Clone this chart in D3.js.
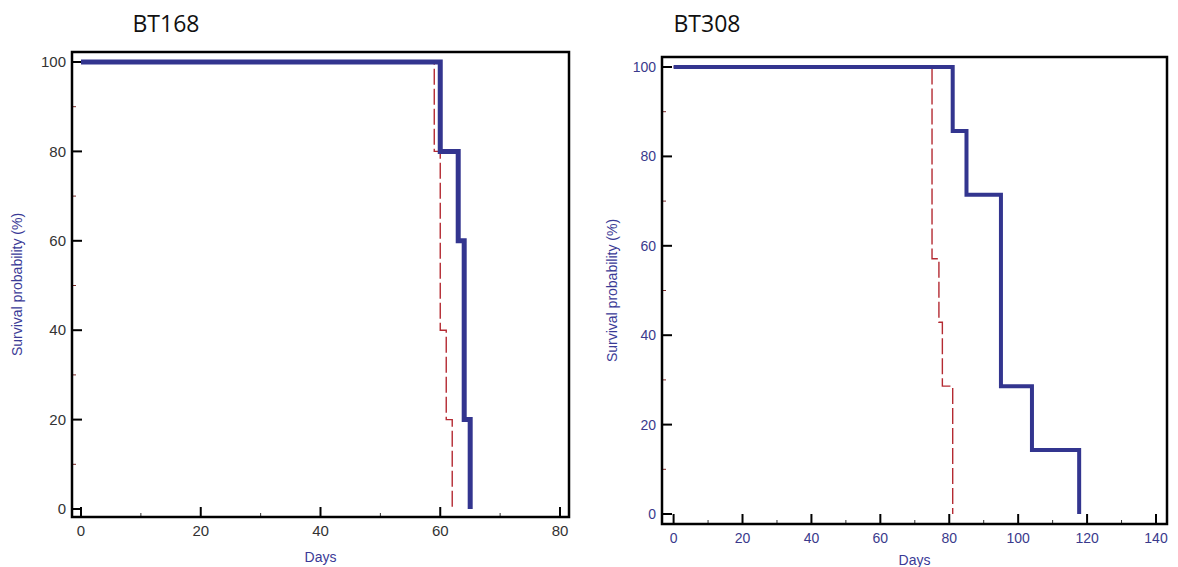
<!DOCTYPE html>
<html><head><meta charset="utf-8">
<script src="https://cdn.jsdelivr.net/npm/d3@7"></script>
<style>body{margin:0;background:#fff;}svg{display:block;}</style>
</head><body>
<svg id="c" width="1178" height="567"></svg>
<script>
// ---- data ----
const titles = ["BT168", "BT308"];
const xTicks168 = [0, 20, 40, 60, 80];
const xTicks308 = [0, 20, 40, 60, 80, 100, 120, 140];
const yTicks = [0, 20, 40, 60, 80, 100];
// Kaplan-Meier step points: [day, survival %]
const bt168Treated = [[0,100],[60,100],[60,80],[63,80],[63,60],[64,60],[64,20],[65,20],[65,0]];
const bt168Control = [[0,100],[59,100],[59,80],[60,80],[60,40],[61,40],[61,20],[62,20],[62,0]];
const bt308Treated = [[0,100],[81,100],[81,85.7],[85,85.7],[85,71.4],[95,71.4],[95,28.6],[104,28.6],[104,14.3],[117.7,14.3],[117.7,0]];
const bt308Control = [[0,100],[75,100],[75,57.1],[77,57.1],[77,42.9],[78,42.9],[78,28.6],[81,28.6],[81,0]];

const svg = d3.select("#c");
const blue = "#33358f";
const red = "#b42a32";

function panel(o) {
  const g = svg.append("g");
  const x = d3.scaleLinear().domain([0, o.xMax]).range([o.x0, o.x1]);
  const y = d3.scaleLinear().domain([0, 100]).range([o.y0, o.y1]);
  const F = o.frame;
  // title
  g.append("text").attr("x", o.titleX).attr("y", 32).attr("text-anchor", "middle")
    .attr("font-family", "Open Sans, sans-serif").attr("font-size", 23).attr("fill", "#111")
    .text(o.title);
  // minor ticks
  const minorX = d3.range(10, o.xMax, 20);
  const minorY = d3.range(10, 100, 20);
  g.selectAll(".mx").data(minorX).enter().append("line")
    .attr("x1", d => x(d)).attr("x2", d => x(d)).attr("y1", F.bottom).attr("y2", F.bottom - 4)
    .attr("stroke", "#333").attr("stroke-width", 1);
  g.selectAll(".my").data(minorY).enter().append("line")
    .attr("y1", d => y(d)).attr("y2", d => y(d)).attr("x1", F.left).attr("x2", F.left + 4)
    .attr("stroke", "#7a2a2a").attr("stroke-width", 1);
  // major ticks
  g.selectAll(".Mx").data(o.xTicks).enter().append("line")
    .attr("x1", d => x(d)).attr("x2", d => x(d)).attr("y1", F.bottom).attr("y2", F.bottom - 10)
    .attr("stroke", "#000").attr("stroke-width", 2);
  g.selectAll(".My").data(yTicks).enter().append("line")
    .attr("y1", d => y(d)).attr("y2", d => y(d)).attr("x1", F.left).attr("x2", F.left + 10)
    .attr("stroke", "#000").attr("stroke-width", 2);
  // tick labels
  g.selectAll(".lx").data(o.xTicks).enter().append("text")
    .attr("x", d => x(d)).attr("y", F.bottom + 19).attr("text-anchor", "middle")
    .attr("font-family", "Liberation Sans, Arial, sans-serif").attr("font-size", o.fs)
    .attr("fill", o.labelColor).text(d => d);
  g.selectAll(".ly").data(yTicks).enter().append("text")
    .attr("x", F.left - 6).attr("y", d => y(d)).attr("dy", "0.35em").attr("text-anchor", "end")
    .attr("font-family", "Liberation Sans, Arial, sans-serif").attr("font-size", o.fs)
    .attr("fill", o.labelColor).text(d => d);
  // axis titles
  g.append("text").attr("x", (F.left + F.right) / 2).attr("y", o.daysY).attr("text-anchor", "middle")
    .attr("font-family", "Liberation Sans, Arial, sans-serif").attr("font-size", 14)
    .attr("fill", "#3a3a96").text("Days");
  g.append("text").attr("transform", `translate(${o.ytX},${(F.top + F.bottom) / 2}) rotate(-90)`)
    .attr("text-anchor", "middle")
    .attr("font-family", "Liberation Sans, Arial, sans-serif").attr("font-size", 14)
    .attr("fill", "#3a3a96").text("Survival probability (%)");
  // curves
  const line = d3.line().x(d => x(d[0])).y(d => y(d[1]));
  g.append("path").datum(o.control).attr("d", line).attr("fill", "none")
    .attr("stroke", red).attr("stroke-width", 1.4).attr("stroke-dasharray", "16,4");
  g.append("path").datum(o.treated).attr("d", line).attr("fill", "none")
    .attr("stroke", blue).attr("stroke-width", o.lw).attr("stroke-linejoin", "miter");
  // frame
  g.append("rect").attr("x", F.left).attr("y", F.top)
    .attr("width", F.right - F.left).attr("height", F.bottom - F.top)
    .attr("fill", "none").attr("stroke", "#000").attr("stroke-width", 2.5);
}

panel({
  title: titles[0], titleX: 166, xMax: 80, xTicks: xTicks168,
  x0: 81, x1: 560, y0: 509, y1: 62,
  frame: {left: 72, right: 569, top: 52, bottom: 517},
  treated: bt168Treated, control: bt168Control,
  labelColor: "#333", fs: 15, lw: 5, daysY: 562, ytX: 22
});
panel({
  title: titles[1], titleX: 707, xMax: 140, xTicks: xTicks308,
  x0: 673.6, x1: 1156, y0: 514, y1: 67,
  frame: {left: 662, right: 1167, top: 57, bottom: 524},
  treated: bt308Treated, control: bt308Control,
  labelColor: "#3a3a8c", fs: 14, lw: 4, daysY: 565, ytX: 617
});
</script>
</body></html>
